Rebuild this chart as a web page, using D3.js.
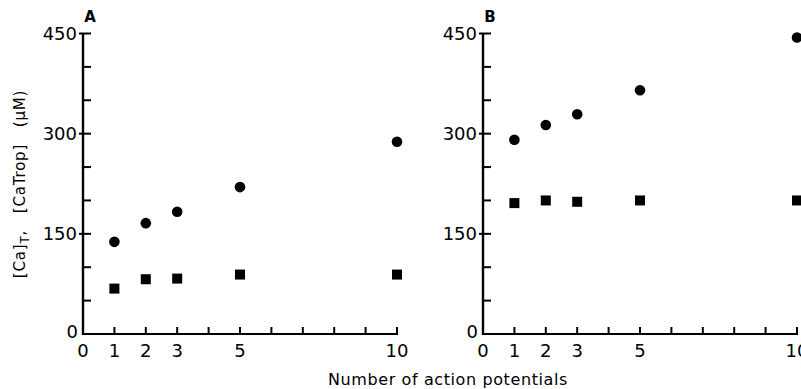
<!DOCTYPE html>
<html>
<head>
<meta charset="utf-8">
<script src="https://cdn.jsdelivr.net/npm/d3@7"></script>
<style>
  html, body { margin: 0; padding: 0; background: #fff; }
  svg text { font-family: "DejaVu Sans", sans-serif; fill: #000; }
</style>
</head>
<body>
<svg id="chart" width="801" height="389"></svg>
<script>
// Number of action potentials at which each point was measured
const actionPotentials = [1, 2, 3, 5, 10];

// Panel A: total calcium (circles) and calcium bound to troponin (squares), µM
const totalCaA = [138, 166, 183, 220, 288];
const caTropA  = [68, 82, 83, 89, 89];

// Panel B
const totalCaB = [291, 313, 329, 365, 444];
const caTropB  = [196, 200, 198, 200, 200];

const panelNames = ["A", "B"];
const yTickLabels = [0, 150, 300, 450];
const yMinorTicks = [50, 100, 200, 250, 350, 400];
const xTickLabels = [0, 1, 2, 3, 5, 10];
const xAllTicks = [0, 1, 2, 3, 4, 5, 6, 7, 8, 9, 10];

const panels = [
  { name: panelNames[0], circles: totalCaA, squares: caTropA, left: 83 },
  { name: panelNames[1], circles: totalCaB, squares: caTropB, left: 483 }
];

const svg = d3.select("#chart");
const plotTop = 33.5, plotBottom = 334;

const y = d3.scaleLinear().domain([0, 450]).range([plotBottom, plotTop]);

panels.forEach(p => {
  const x = d3.scaleLinear().domain([0, 10]).range([p.left, p.left + 314]);
  const g = svg.append("g");

  // axes lines
  g.append("line").attr("x1", x(0)).attr("x2", x(0))
    .attr("y1", y(450)).attr("y2", y(0) + 1)
    .attr("stroke", "#000").attr("stroke-width", 2.4);
  g.append("line").attr("x1", x(0) - 1).attr("x2", x(10))
    .attr("y1", y(0)).attr("y2", y(0))
    .attr("stroke", "#000").attr("stroke-width", 2.2);

  // y ticks: labeled ones cross the axis, minor ones point inward
  g.selectAll(".ymaj").data(yTickLabels.filter(v => v > 0)).join("line")
    .attr("x1", x(0) - 4).attr("x2", x(0) + 8)
    .attr("y1", d => y(d)).attr("y2", d => y(d))
    .attr("stroke", "#000").attr("stroke-width", 2);
  g.selectAll(".ymin").data(yMinorTicks).join("line")
    .attr("x1", x(0)).attr("x2", x(0) + 8)
    .attr("y1", d => y(d)).attr("y2", d => y(d))
    .attr("stroke", "#000").attr("stroke-width", 2);

  // x ticks point upward
  g.selectAll(".xt").data(xAllTicks.filter(v => v > 0)).join("line")
    .attr("x1", d => x(d)).attr("x2", d => x(d))
    .attr("y1", y(0) + 1).attr("y2", y(0) - 7)
    .attr("stroke", "#000").attr("stroke-width", 2);

  // y tick labels
  g.selectAll(".yl").data(yTickLabels).join("text")
    .attr("x", d => d === 0 ? x(0) - 5 : x(0) - 6)
    .attr("y", d => y(d) + (d === 0 ? 4 : 6.5))
    .attr("text-anchor", "end")
    .attr("font-size", 18)
    .text(d => d);

  // x tick labels
  g.selectAll(".xl").data(xTickLabels).join("text")
    .attr("x", d => x(d))
    .attr("y", 357)
    .attr("text-anchor", "middle")
    .attr("font-size", 18)
    .text(d => d);

  // panel letter
  g.append("text").attr("x", x(0) + 7).attr("y", 22)
    .attr("text-anchor", "middle").attr("font-size", 15).attr("font-weight", "bold")
    .text(p.name);

  // circles: total calcium
  g.selectAll(".c").data(p.circles).join("circle")
    .attr("cx", (d, i) => x(actionPotentials[i]))
    .attr("cy", d => y(d))
    .attr("r", 5.3)
    .attr("fill", "#000");

  // squares: calcium-troponin
  const s = 10;
  g.selectAll(".s").data(p.squares).join("rect")
    .attr("x", (d, i) => x(actionPotentials[i]) - s / 2)
    .attr("y", d => y(d) - s / 2)
    .attr("width", s).attr("height", s)
    .attr("fill", "#000");
});

// y axis title with subscript T
const yTitle = svg.append("text")
  .attr("transform", "translate(25,184) rotate(-90)")
  .attr("text-anchor", "middle")
  .attr("font-size", 15)
  .attr("letter-spacing", 0.8)
  .attr("xml:space", "preserve");
yTitle.append("tspan").text("[Ca]");
yTitle.append("tspan").attr("dy", 4).attr("font-size", 12).text("T");
yTitle.append("tspan").attr("dy", -4).text(",   [CaTrop]   (\u00b5M)");

// x axis title
svg.append("text")
  .attr("x", 448).attr("y", 385)
  .attr("text-anchor", "middle")
  .attr("font-size", 16)
  .attr("letter-spacing", 0.6)
  .text("Number of action potentials");
</script>
</body>
</html>
